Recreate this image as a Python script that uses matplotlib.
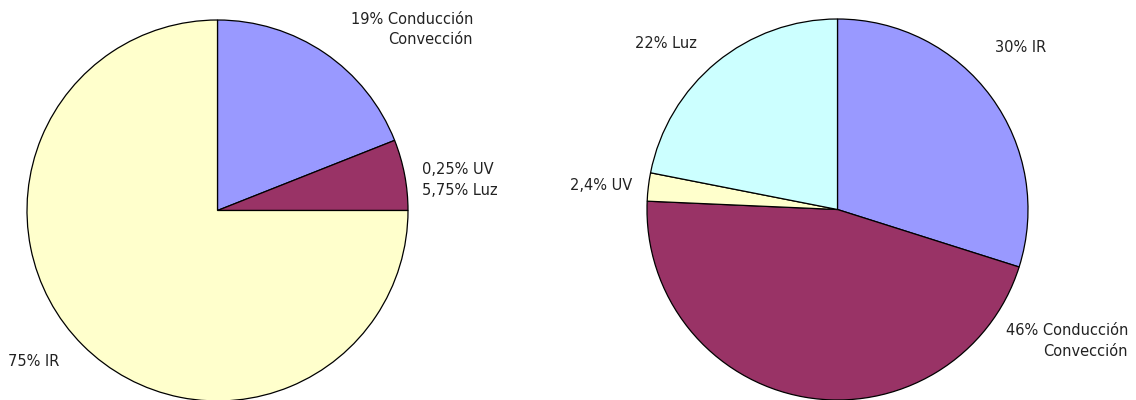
import matplotlib
matplotlib.use("Agg")
import matplotlib.pyplot as plt

# left pie: source A
left_values = [19, 6, 75]
left_colors = ["#9999FF", "#993366", "#FFFFCC"]
left_labels = ["19% Conducción\nConvección", "0,25% UV\n5,75% Luz", "75% IR"]

# right pie: source B
right_values = [30, 46, 2.4, 22]
right_colors = ["#9999FF", "#993366", "#FFFFCC", "#CCFFFF"]
right_labels = ["30% IR", "46% Conducción\nConvección", "2,4% UV", "22% Luz"]

W, H = 1136, 400
fig = plt.figure(figsize=(W / 100, H / 100), dpi=100)
ax = fig.add_axes([0, 0, 1, 1])
ax.set_xlim(0, W)
ax.set_ylim(0, H)
ax.axis("off")

wedge_style = dict(edgecolor="black", linewidth=0.9)
ax.pie(left_values, colors=left_colors, startangle=90, counterclock=False,
       center=(217.5, H - 210.5), radius=190.5, wedgeprops=wedge_style,
       frame=True)
ax.pie(right_values, colors=right_colors, startangle=90, counterclock=False,
       center=(837.5, H - 209.5), radius=190.5, wedgeprops=wedge_style,
       frame=True)
ax.set_xlim(0, W)
ax.set_ylim(0, H)
ax.axis("off")

# label placement (pixel coords from top-left), alignment
left_pos = [(473, 29.5, "right"), (422, 180, "left"), (8, 361, "left")]
right_pos = [(995, 47, "left"), (1128, 341, "right"), (570, 185, "left"), (635, 44, "left")]

txt = dict(fontsize=10.5, color="#222222", va="center", linespacing=1.5)
for lab, (x, y, ha) in zip(left_labels + right_labels, left_pos + right_pos):
    ax.text(x, H - y, lab, ha=ha, multialignment=ha, **txt)

fig.savefig("out.png", dpi=100, facecolor="white")
